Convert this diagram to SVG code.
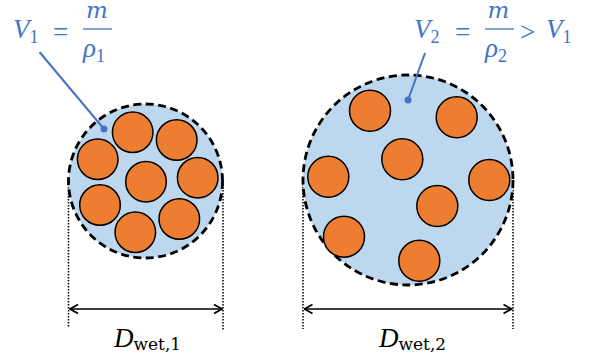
<svg xmlns="http://www.w3.org/2000/svg" width="592" height="358" viewBox="0 0 592 358">
<style>
.drop{fill:#BDD7EE;stroke:#000;stroke-width:2.8;stroke-dasharray:8 4.5}
.p{fill:#ED7D31;stroke:#000;stroke-width:1.5}
.dot{fill:none;stroke:#000;stroke-width:1.5;stroke-dasharray:1.5 1.5}
.dim{fill:none;stroke:#000;stroke-width:1.6;marker-start:url(#ah);marker-end:url(#ah)}
.lead{stroke:#4472C4;stroke-width:2;fill:none}
.m{font-family:"Liberation Serif",serif;fill:#4472C4}
.mm{font-family:"DejaVu Serif",serif;fill:#4472C4;font-style:italic}
.d{font-family:"Liberation Serif",serif;fill:#000}
.sub{font-family:"DejaVu Serif",serif;font-style:normal}
.i{font-style:italic}
</style>
<defs>
<marker id="ah" viewBox="0 0 12 12" refX="11" refY="6" markerWidth="12" markerHeight="12" markerUnits="userSpaceOnUse" orient="auto-start-reverse">
<polyline points="3,1.5 11,6 3,10.5" fill="none" stroke="#000" stroke-width="1.7"/>
</marker>
</defs>
<g id="connectors">
<line class="dot" x1="68.5" y1="181" x2="68.5" y2="328"/>
<line class="dot" x1="223" y1="181" x2="223" y2="330"/>
<line class="dot" x1="303" y1="181" x2="303" y2="329"/>
<line class="dot" x1="513" y1="181" x2="513" y2="329"/>
<line class="dim" x1="70" y1="309" x2="222" y2="309"/>
<line class="dim" x1="304.5" y1="309" x2="511.5" y2="309"/>
</g>
<g id="droplet1">
<circle class="drop" cx="145.5" cy="181" r="77"/>
<circle class="p" cx="132.7" cy="132.3" r="20.3"/>
<circle class="p" cx="176.7" cy="140" r="20.3"/>
<circle class="p" cx="97.7" cy="159.3" r="20.3"/>
<circle class="p" cx="146" cy="181.7" r="20.3"/>
<circle class="p" cx="197.7" cy="177.7" r="20.3"/>
<circle class="p" cx="100" cy="205" r="20.3"/>
<circle class="p" cx="179.3" cy="219" r="20.3"/>
<circle class="p" cx="135.3" cy="232.3" r="20.3"/>
</g>
<g id="droplet2">
<circle class="drop" cx="408" cy="180" r="105"/>
<circle class="p" cx="370" cy="110.7" r="20.5"/>
<circle class="p" cx="456.7" cy="117.3" r="20.5"/>
<circle class="p" cx="402.3" cy="159.3" r="20.5"/>
<circle class="p" cx="328.3" cy="176.7" r="20.5"/>
<circle class="p" cx="489.3" cy="180" r="20.5"/>
<circle class="p" cx="437.3" cy="206" r="20.5"/>
<circle class="p" cx="344" cy="236.7" r="20.5"/>
<circle class="p" cx="419.3" cy="260.7" r="20.5"/>
</g>
<g id="label1">
<line class="lead" x1="39.5" y1="52" x2="104" y2="129"/>
<circle cx="104" cy="129" r="3.5" fill="#4472C4"/>
<text class="m" x="13" y="38" font-size="27"><tspan class="i">V</tspan><tspan font-size="18" dy="5">1</tspan></text>
<text class="m" x="53" y="41" font-size="27">=</text>
<text class="mm" x="97" y="18" font-size="23" text-anchor="middle">m</text>
<line x1="83" y1="29" x2="112" y2="29" stroke="#4472C4" stroke-width="1.3"/>
<text class="m" x="83" y="57" font-size="27"><tspan class="i">ρ</tspan><tspan font-size="18" dy="5">1</tspan></text>
</g>
<g id="label2">
<line class="lead" x1="425" y1="53" x2="408" y2="100"/>
<circle cx="408" cy="100" r="3.5" fill="#4472C4"/>
<text class="m" x="414" y="38" font-size="27"><tspan class="i">V</tspan><tspan font-size="18" dy="5">2</tspan></text>
<text class="m" x="455" y="41" font-size="27">=</text>
<text class="mm" x="498.5" y="18" font-size="23" text-anchor="middle">m</text>
<line x1="485" y1="29" x2="514" y2="29" stroke="#4472C4" stroke-width="1.3"/>
<text class="m" x="485" y="57" font-size="27"><tspan class="i">ρ</tspan><tspan font-size="18" dy="5">2</tspan></text>
<text class="m" x="520" y="41" font-size="27">&gt;</text>
<text class="m" x="546" y="38" font-size="27"><tspan class="i">V</tspan><tspan font-size="18" dy="5">1</tspan></text>
</g>
<g id="dlabel1">
<text class="d" x="114" y="347" font-size="27"><tspan class="i">D</tspan><tspan class="sub" font-size="17" dy="3">wet,1</tspan></text>
</g>
<g id="dlabel2">
<text class="d" x="379" y="347" font-size="27"><tspan class="i">D</tspan><tspan class="sub" font-size="17" dy="3">wet,2</tspan></text>
</g>
</svg>
